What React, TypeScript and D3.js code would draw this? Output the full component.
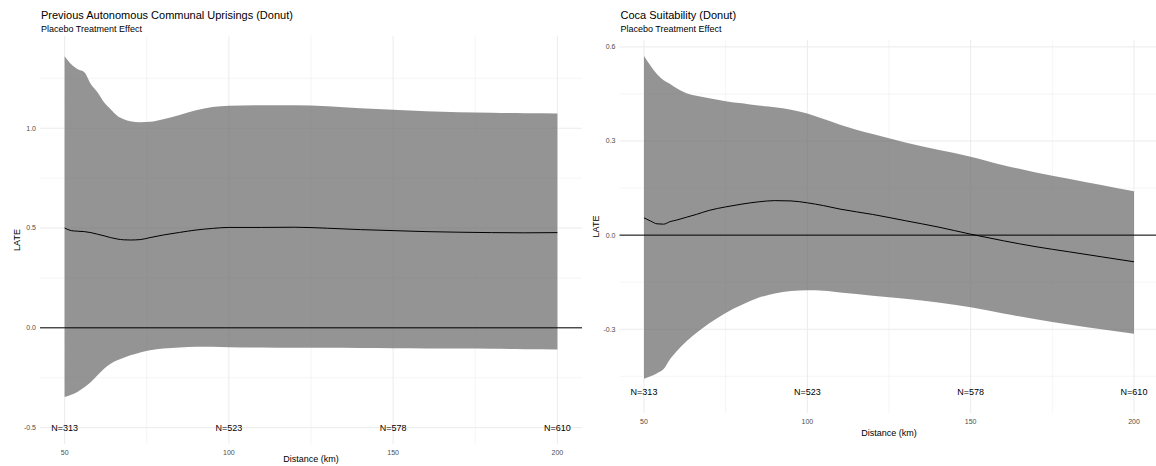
import React from 'react';
import * as d3 from 'd3';

// Previous Autonomous Communal Uprisings (Donut)
const uprisingDist = [50, 52, 54, 56, 58, 60, 62, 64, 66, 68, 70, 73, 76, 80, 85, 90, 95, 100, 110, 120, 130, 140, 150, 160, 170, 180, 190, 200];
const uprisingUpper = [1.36, 1.32, 1.295, 1.28, 1.22, 1.18, 1.13, 1.095, 1.063, 1.045, 1.035, 1.03, 1.032, 1.045, 1.066, 1.09, 1.106, 1.113, 1.115, 1.115, 1.11, 1.1, 1.092, 1.085, 1.08, 1.077, 1.075, 1.074];
const uprisingLower = [-0.346, -0.335, -0.32, -0.298, -0.272, -0.238, -0.205, -0.18, -0.163, -0.15, -0.138, -0.123, -0.112, -0.104, -0.098, -0.095, -0.095, -0.097, -0.099, -0.1, -0.1, -0.101, -0.102, -0.103, -0.104, -0.105, -0.107, -0.108];
const uprisingLate = [0.5, 0.487, 0.484, 0.482, 0.477, 0.469, 0.461, 0.452, 0.445, 0.441, 0.44, 0.442, 0.452, 0.465, 0.478, 0.49, 0.498, 0.503, 0.503, 0.504, 0.499, 0.492, 0.487, 0.482, 0.479, 0.477, 0.476, 0.477];

// Coca Suitability (Donut)
const cocaDist = [50, 52, 54, 56, 58, 60, 63, 66, 70, 75, 80, 85, 90, 95, 100, 105, 110, 120, 130, 140, 150, 160, 170, 180, 190, 200];
const cocaUpper = [0.571, 0.54, 0.513, 0.494, 0.482, 0.468, 0.452, 0.444, 0.436, 0.427, 0.42, 0.413, 0.408, 0.4, 0.388, 0.37, 0.352, 0.322, 0.295, 0.272, 0.25, 0.223, 0.2, 0.18, 0.16, 0.14];
const cocaLower = [-0.458, -0.45, -0.44, -0.427, -0.395, -0.37, -0.338, -0.312, -0.281, -0.248, -0.222, -0.2, -0.186, -0.178, -0.176, -0.177, -0.183, -0.193, -0.203, -0.215, -0.23, -0.25, -0.268, -0.285, -0.3, -0.314];
const cocaLate = [0.055, 0.045, 0.036, 0.035, 0.043, 0.048, 0.057, 0.066, 0.079, 0.09, 0.099, 0.106, 0.11, 0.109, 0.103, 0.094, 0.083, 0.066, 0.046, 0.026, 0.003, -0.018, -0.037, -0.053, -0.069, -0.085];

// annotations and ticks
const nDist = [50, 100, 150, 200];
const nLabels = ['N=313', 'N=523', 'N=578', 'N=610'];
const nLabelY = -0.5;
const xTicks = [50, 100, 150, 200];
const xMinor = [75, 125, 175];
const uprisingYTicks = [-0.5, 0, 0.5, 1.0];
const uprisingYMinor = [-0.25, 0.25, 0.75, 1.25];
const cocaYTicks = [-0.3, 0, 0.3, 0.6];
const cocaYMinor = [-0.45, -0.15, 0.15, 0.45];

const FONT = '"Liberation Sans", Arial, Helvetica, sans-serif';

interface PanelProps {
  title: string;
  subtitle: string;
  box: { left: number; right: number; top: number; bottom: number };
  yDomain: [number, number];
  yTicks: number[];
  yMinor: number[];
  dist: number[];
  upper: number[];
  lower: number[];
  late: number[];
}

const Panel: React.FC<PanelProps> = ({ title, subtitle, box, yDomain, yTicks, yMinor, dist, upper, lower, late }) => {
  const x = d3.scaleLinear().domain([42.5, 207.5]).range([box.left, box.right]);
  const y = d3.scaleLinear().domain(yDomain).range([box.bottom, box.top]);

  const area = d3.area<number>()
    .x((d, i) => x(dist[i]))
    .y0((d, i) => y(lower[i]))
    .y1(d => y(d))
    .curve(d3.curveMonotoneX);

  const line = d3.line<number>()
    .x((d, i) => x(dist[i]))
    .y(d => y(d))
    .curve(d3.curveMonotoneX);

  const midY = (box.top + box.bottom) / 2;
  // keep the x axis title inside the 466px picture
  const xTitleY = Math.min(box.bottom + 20, 459);

  return (
    <g fontFamily={FONT}>
      <text x={box.left + 1} y={19} fontSize={11} fill="#000">{title}</text>
      <text x={box.left + 1} y={32} fontSize={9} fill="#000">{subtitle}</text>

      {/* grid */}
      {yMinor.map(v => (
        <line key={'ym' + v} x1={box.left} x2={box.right} y1={y(v)} y2={y(v)} stroke="#ebebeb" strokeWidth={0.5} />
      ))}
      {xMinor.map(v => (
        <line key={'xm' + v} x1={x(v)} x2={x(v)} y1={box.top} y2={box.bottom} stroke="#ebebeb" strokeWidth={0.5} />
      ))}
      {yTicks.map(v => (
        <line key={'yg' + v} x1={box.left} x2={box.right} y1={y(v)} y2={y(v)} stroke="#ebebeb" strokeWidth={1} />
      ))}
      {xTicks.map(v => (
        <line key={'xg' + v} x1={x(v)} x2={x(v)} y1={box.top} y2={box.bottom} stroke="#ebebeb" strokeWidth={1} />
      ))}

      <path d={area(upper) || ''} fill="#666666" fillOpacity={0.7} />
      <line x1={box.left} x2={box.right} y1={y(0)} y2={y(0)} stroke="#000" strokeWidth={1} />
      <path d={line(late) || ''} fill="none" stroke="#000" strokeWidth={1} />

      {nLabels.map((t, i) => (
        <text key={t} x={x(nDist[i])} y={y(nLabelY)} dy="0.35em" textAnchor="middle" fontSize={9} fill="#000">{t}</text>
      ))}

      {/* axes text */}
      {yTicks.map(v => (
        <text key={'yt' + v} x={box.left - 4} y={y(v)} dy="0.35em" textAnchor="end" fontSize={7} fill="#4d4d4d">{v.toFixed(1)}</text>
      ))}
      {xTicks.map(v => (
        <text key={'xt' + v} x={x(v)} y={box.bottom + 8.4} dy="0.35em" textAnchor="middle" fontSize={7} fill="#4d4d4d">{v}</text>
      ))}
      <text x={(box.left + box.right) / 2} y={xTitleY} dy="0.35em" textAnchor="middle" fontSize={9} fill="#000">Distance (km)</text>
      <text transform={`translate(${box.left - 23.5},${midY}) rotate(-90)`} textAnchor="middle" dy="0.35em" fontSize={9} fill="#000">LATE</text>
    </g>
  );
};

export default function App() {
  return (
    <svg width={1156} height={466} style={{ position: 'absolute', left: 0, top: 0, background: '#fff' }}>
      <rect width={1156} height={466} fill="#fff" />
      <Panel
        title="Previous Autonomous Communal Uprisings (Donut)"
        subtitle="Placebo Treatment Effect"
        box={{ left: 40, right: 582, top: 36, bottom: 444 }}
        yDomain={[-0.582, 1.462]}
        yTicks={uprisingYTicks}
        yMinor={uprisingYMinor}
        dist={uprisingDist}
        upper={uprisingUpper}
        lower={uprisingLower}
        late={uprisingLate}
      />
      <Panel
        title="Coca Suitability (Donut)"
        subtitle="Placebo Treatment Effect"
        box={{ left: 619.5, right: 1158.5, top: 40, bottom: 413 }}
        yDomain={[-0.567, 0.622]}
        yTicks={cocaYTicks}
        yMinor={cocaYMinor}
        dist={cocaDist}
        upper={cocaUpper}
        lower={cocaLower}
        late={cocaLate}
      />
    </svg>
  );
}
